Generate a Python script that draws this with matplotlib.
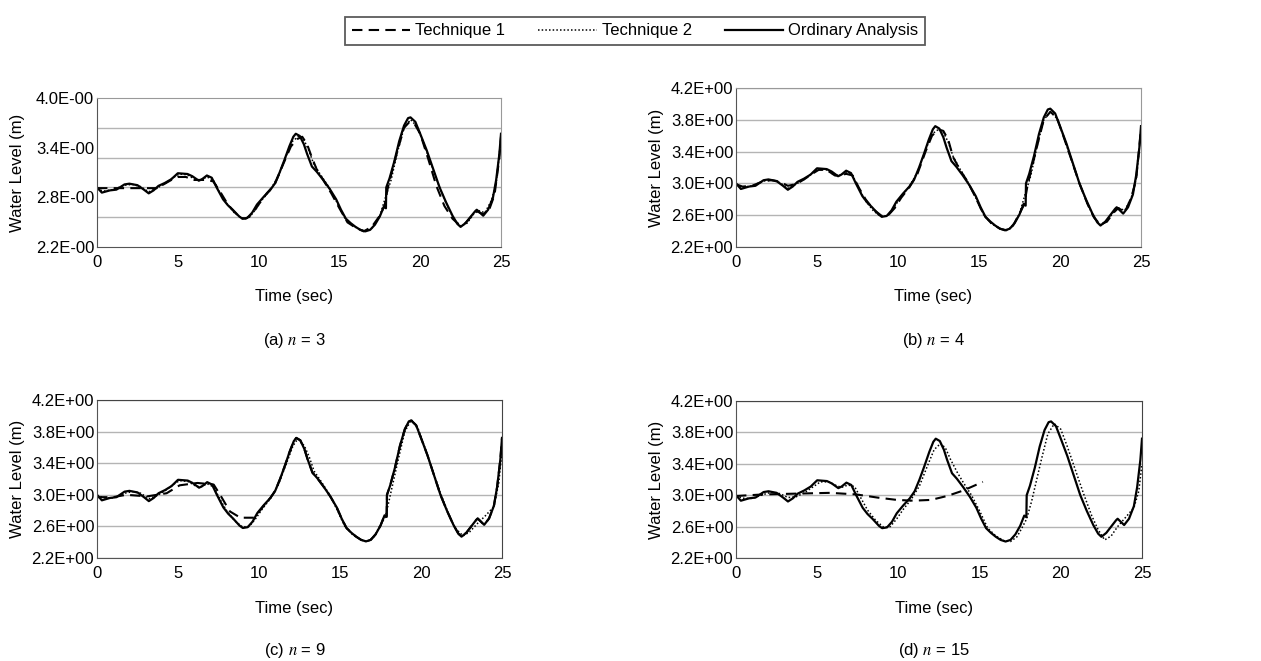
import matplotlib
matplotlib.use("AGG")

import matplotlib.pyplot as plt

plt.rcParams["font.family"] = ["Liberation Sans", "DejaVu Sans"]
plt.rcParams["mathtext.fontset"] = "stix"

# ── Data ────────────────────────────────────────────────────────────────────
# Ordinary analysis (solid) – same series in every panel
oa_time = [0, 0.3, 0.8, 1.2, 1.7, 2.0, 2.5, 2.9, 3.2, 3.5, 3.8, 4.2, 4.6, 5.0, 5.6, 5.9,
           6.3, 6.5, 6.8, 7.1, 7.4, 7.8, 8.1, 8.4, 8.8, 9.0, 9.3, 9.6, 9.9, 10.3, 10.7,
           11.0, 11.3, 11.6, 11.9, 12.15, 12.3, 12.55, 12.8, 13.0, 13.3, 13.6, 14.0, 14.4,
           14.8, 15.1, 15.4, 15.7, 16.0, 16.3, 16.6, 16.9, 17.2, 17.5, 17.75, 17.88, 17.9,
           18.1, 18.4, 18.7, 19.0, 19.25, 19.4, 19.7, 20.0, 20.4, 20.8, 21.2, 21.6, 22.0,
           22.3, 22.5, 22.8, 23.1, 23.4, 23.5, 23.8, 23.9, 24.2, 24.5, 24.7, 24.9, 25.0]
oa_level = [3.00, 2.93, 2.96, 2.97, 3.04, 3.05, 3.03, 2.97, 2.92, 2.96, 3.02, 3.06, 3.11, 3.19,
            3.18, 3.15, 3.09, 3.11, 3.16, 3.13, 3.00, 2.84, 2.76, 2.70, 2.61, 2.58, 2.59, 2.66,
            2.77, 2.87, 2.96, 3.05, 3.20, 3.37, 3.55, 3.68, 3.72, 3.69, 3.58, 3.45, 3.28, 3.21,
            3.10, 2.98, 2.84, 2.70, 2.58, 2.52, 2.47, 2.43, 2.41, 2.43, 2.50, 2.61, 2.74, 2.72,
            3.00, 3.12, 3.35, 3.62, 3.83, 3.93, 3.94, 3.88, 3.72, 3.50, 3.25, 3.00, 2.80, 2.62,
            2.51, 2.47, 2.52, 2.60, 2.68, 2.70, 2.64, 2.62, 2.70, 2.86, 3.10, 3.45, 3.72]

# (a) n = 3
t1_n3_time = [0, 3.7, 4.2, 4.6, 5.0, 5.5, 6.0, 6.8, 7.2, 7.6, 8.1, 8.5, 8.9, 9.2, 9.6, 10.0,
              10.5, 11.0, 11.5, 12.0, 12.4, 12.7, 13.0, 13.3, 13.6, 14.0, 14.5, 15.0, 15.5,
              16.0, 16.5, 17.0, 17.5, 17.8, 18.0, 18.5, 19.0, 19.3, 19.6, 20.0, 20.5, 21.0,
              21.5, 22.0, 22.4, 22.8, 23.2, 23.5, 23.9, 24.3, 24.6, 24.9, 25.0]
t1_n3_level = [2.99, 2.99, 3.05, 3.10, 3.14, 3.14, 3.10, 3.10, 3.08, 2.95, 2.77, 2.67, 2.59,
               2.58, 2.64, 2.77, 2.92, 3.04, 3.30, 3.55, 3.65, 3.68, 3.58, 3.40, 3.24, 3.10,
               2.92, 2.72, 2.53, 2.46, 2.41, 2.47, 2.62, 2.76, 3.00, 3.42, 3.80, 3.87, 3.87,
               3.72, 3.38, 3.02, 2.75, 2.58, 2.50, 2.52, 2.62, 2.68, 2.64, 2.72, 2.90, 3.40, 3.68]
t2_n3_time = [0, 0.4, 1.0, 1.7, 2.2, 2.7, 3.2, 3.7, 4.2, 4.7, 5.1, 5.6, 6.1, 6.4, 6.8, 7.2,
              7.6, 8.0, 8.5, 9.0, 9.4, 9.8, 10.2, 10.7, 11.2, 11.7, 12.1, 12.5, 12.8, 13.1,
              13.4, 13.8, 14.3, 14.8, 15.3, 15.8, 16.3, 16.7, 17.1, 17.5, 17.9, 18.2, 18.6,
              19.0, 19.4, 19.8, 20.2, 20.7, 21.2, 21.7, 22.1, 22.5, 22.9, 23.3, 23.6, 24.0,
              24.4, 24.7, 25.0]
t2_n3_level = [2.98, 2.95, 2.97, 3.03, 3.04, 3.01, 2.94, 2.99, 3.05, 3.13, 3.18, 3.17, 3.10,
               3.10, 3.14, 3.10, 2.93, 2.79, 2.66, 2.58, 2.59, 2.70, 2.83, 2.96, 3.14, 3.42,
               3.62, 3.69, 3.64, 3.50, 3.32, 3.18, 3.02, 2.82, 2.60, 2.49, 2.43, 2.41, 2.47,
               2.62, 2.90, 3.10, 3.48, 3.80, 3.91, 3.82, 3.60, 3.30, 3.00, 2.74, 2.57, 2.48,
               2.52, 2.64, 2.69, 2.66, 2.82, 3.05, 3.65]

# (b) n = 4
t1_n4_time = [0, 0.4, 1.0, 1.7, 2.2, 2.7, 3.2, 3.7, 4.2, 4.7, 5.1, 5.6, 6.1, 6.4, 6.8, 7.2,
              7.6, 8.0, 8.5, 9.0, 9.4, 9.8, 10.2, 10.7, 11.2, 11.7, 12.1, 12.5, 12.8, 13.1,
              13.4, 13.8, 14.3, 14.8, 15.3, 15.8, 16.3, 16.7, 17.1, 17.5, 17.8, 18.0, 18.6,
              19.0, 19.4, 19.8, 20.2, 20.7, 21.2, 21.7, 22.1, 22.5, 22.9, 23.3, 23.6, 24.0,
              24.4, 24.7, 25.0]
t1_n4_level = [2.99, 2.96, 2.97, 3.03, 3.04, 3.02, 2.97, 2.99, 3.05, 3.12, 3.17, 3.17, 3.10,
               3.10, 3.12, 3.10, 2.94, 2.80, 2.67, 2.59, 2.60, 2.69, 2.82, 2.95, 3.12, 3.40,
               3.60, 3.68, 3.66, 3.55, 3.33, 3.18, 3.02, 2.82, 2.60, 2.49, 2.43, 2.41, 2.47,
               2.62, 2.74, 2.98, 3.48, 3.80, 3.90, 3.83, 3.60, 3.30, 3.00, 2.74, 2.57, 2.48,
               2.52, 2.63, 2.69, 2.64, 2.82, 3.05, 3.68]
t2_n4_time = [0, 0.4, 1.0, 1.7, 2.2, 2.7, 3.2, 3.7, 4.2, 4.7, 5.1, 5.6, 6.1, 6.4, 6.8, 7.2,
              7.6, 8.0, 8.5, 9.0, 9.4, 9.8, 10.2, 10.7, 11.2, 11.7, 12.1, 12.5, 12.8, 13.1,
              13.4, 13.8, 14.3, 14.8, 15.3, 15.8, 16.3, 16.7, 17.1, 17.5, 17.9, 18.2, 18.6,
              19.0, 19.4, 19.8, 20.2, 20.7, 21.2, 21.7, 22.1, 22.5, 22.9, 23.3, 23.6, 24.0,
              24.4, 24.7, 25.0]
t2_n4_level = [2.98, 2.95, 2.97, 3.03, 3.04, 3.01, 2.94, 2.99, 3.05, 3.13, 3.18, 3.17, 3.10,
               3.10, 3.14, 3.10, 2.93, 2.78, 2.65, 2.58, 2.60, 2.71, 2.84, 2.96, 3.14, 3.42,
               3.62, 3.68, 3.64, 3.52, 3.34, 3.19, 3.02, 2.82, 2.60, 2.49, 2.43, 2.41, 2.47,
               2.62, 2.90, 3.10, 3.48, 3.80, 3.90, 3.82, 3.60, 3.30, 3.00, 2.74, 2.57, 2.48,
               2.52, 2.64, 2.69, 2.66, 2.82, 3.05, 3.65]

# (c) n = 9
t1_n9_time = [0, 1.0, 1.8, 3.1, 4.3, 5.1, 6.2, 7.2, 7.6, 8.2, 8.85, 9.7, 10.1, 10.4, 10.7,
              11.0, 11.3, 11.6, 11.9, 12.15, 12.3, 12.55, 12.8, 13.0, 13.3, 13.6, 14.0, 14.4,
              14.8, 15.1, 15.4, 15.7, 16.0, 16.3, 16.6, 16.9, 17.2, 17.5, 17.75, 17.88, 17.9,
              18.1, 18.4, 18.7, 19.0, 19.25, 19.4, 19.7, 20.0, 20.4, 20.8, 21.2, 21.6, 22.0,
              22.3, 22.5, 22.8, 23.1, 23.4, 23.5, 23.8, 23.9, 24.2, 24.5, 24.7, 24.9, 25.0]
t1_n9_level = [2.97, 2.97, 3.00, 2.98, 3.02, 3.12, 3.15, 3.13, 3.00, 2.79, 2.71, 2.71, 2.81,
               2.89, 2.96, 3.05, 3.20, 3.37, 3.55, 3.68, 3.72, 3.69, 3.58, 3.45, 3.28, 3.21,
               3.10, 2.98, 2.84, 2.70, 2.58, 2.52, 2.47, 2.43, 2.41, 2.43, 2.50, 2.61, 2.74,
               2.72, 3.00, 3.12, 3.35, 3.62, 3.83, 3.93, 3.94, 3.88, 3.72, 3.50, 3.25, 3.00,
               2.80, 2.62, 2.51, 2.47, 2.52, 2.60, 2.68, 2.70, 2.64, 2.62, 2.70, 2.86, 3.10,
               3.45, 3.72]
t2_n9_time = [0, 0.5, 1.0, 1.7, 2.2, 2.7, 3.2, 3.7, 4.2, 4.7, 5.1, 5.6, 6.1, 6.4, 6.8, 7.2,
              7.6, 8.0, 8.5, 9.0, 9.4, 9.8, 10.2, 10.7, 11.2, 11.7, 12.1, 12.4, 12.8, 13.1,
              13.4, 13.8, 14.3, 14.8, 15.3, 15.8, 16.3, 16.7, 17.1, 17.5, 17.8, 18.0, 18.6,
              19.0, 19.4, 19.8, 20.2, 20.7, 21.2, 21.7, 22.1, 22.6, 23.0, 23.5, 24.0, 24.5,
              24.8, 25.0]
t2_n9_level = [2.99, 2.96, 2.96, 3.02, 3.04, 3.02, 2.95, 2.99, 3.05, 3.13, 3.18, 3.17, 3.11,
               3.10, 3.14, 3.10, 2.94, 2.80, 2.67, 2.59, 2.60, 2.70, 2.82, 2.95, 3.13, 3.40,
               3.62, 3.71, 3.62, 3.48, 3.30, 3.18, 3.02, 2.82, 2.60, 2.49, 2.43, 2.41, 2.47,
               2.62, 2.72, 2.90, 3.45, 3.80, 3.95, 3.85, 3.62, 3.32, 3.02, 2.76, 2.58, 2.48,
               2.53, 2.64, 2.74, 2.85, 3.15, 3.55]

# (d) n = 15
t1_n15_time = [0, 1.7, 3.7, 5.8, 7.4, 8.7, 9.9, 10.9, 12.0, 13.0, 14.0, 15.2]
t1_n15_level = [2.99, 3.01, 3.02, 3.03, 3.01, 2.97, 2.94, 2.93, 2.94, 2.99, 3.06, 3.17]
t2_n15_time = [0, 0.5, 1.0, 1.7, 2.2, 2.7, 3.2, 3.7, 4.2, 4.7, 5.2, 5.7, 6.2, 6.5, 6.9, 7.3,
               7.7, 8.1, 8.6, 9.1, 9.5, 9.9, 10.3, 10.8, 11.3, 11.8, 12.2, 12.6, 12.9, 13.2,
               13.6, 14.0, 14.5, 15.0, 15.5, 16.0, 16.5, 16.9, 17.3, 17.6, 17.9, 18.2, 18.8,
               19.2, 19.6, 20.0, 20.4, 20.9, 21.4, 21.9, 22.3, 22.7, 23.1, 23.5, 24.0, 24.5,
               24.8, 25.0]
t2_n15_level = [2.99, 2.96, 2.96, 3.01, 3.04, 3.02, 2.97, 2.98, 3.03, 3.10, 3.17, 3.17, 3.12,
                3.10, 3.13, 3.11, 2.96, 2.81, 2.68, 2.59, 2.60, 2.70, 2.82, 2.95, 3.12, 3.38,
                3.58, 3.66, 3.60, 3.46, 3.30, 3.16, 3.00, 2.80, 2.58, 2.48, 2.42, 2.41, 2.47,
                2.58, 2.70, 2.92, 3.45, 3.78, 3.91, 3.84, 3.62, 3.32, 3.02, 2.74, 2.56, 2.43,
                2.48, 2.60, 2.72, 2.84, 3.05, 3.40]

captions = ["(a) $n$ = 3", "(b) $n$ = 4", "(c) $n$ = 9", "(d) $n$ = 15"]
x_ticks = [0, 5, 10, 15, 20, 25]
y_ticks = [2.2, 2.6, 3.0, 3.4, 3.8, 4.2]
y_tick_labels = ["2.2E+00", "2.6E+00", "3.0E+00", "3.4E+00", "3.8E+00", "4.2E+00"]
# panel (a) was labelled with its own (odd) set of ticks
y_ticks_a = [2.2, 2.2 + 2 / 3, 2.2 + 4 / 3, 4.2]
y_tick_labels_a = ["2.2E-00", "2.8E-00", "3.4E-00", "4.0E-00"]

series = [
    (t1_n3_time, t1_n3_level, t2_n3_time, t2_n3_level),
    (t1_n4_time, t1_n4_level, t2_n4_time, t2_n4_level),
    (t1_n9_time, t1_n9_level, t2_n9_time, t2_n9_level),
    (t1_n15_time, t1_n15_level, t2_n15_time, t2_n15_level),
]

# ── Layout (pixel boxes: left, top, right, bottom) ──────────────────────────
W, H = 1261, 661
BOXES = [(97, 98, 501, 247), (736, 88, 1141, 247), (97, 400, 502, 558), (736, 401, 1142, 558)]
FS = 12
GRID = "#b4b4b4"

fig = plt.figure(figsize=(W / 100, H / 100), dpi=100)

handles = None
for i, (box, caption, (t1x, t1y, t2x, t2y)) in enumerate(zip(BOXES, captions, series)):
    l, t, r, b = box
    ax = fig.add_axes([l / W, 1 - b / H, (r - l) / W, (b - t) / H])

    h1, = ax.plot(t1x, t1y, color="black", lw=1.5, linestyle=(0, (5, 3)), label="Technique 1")
    h2, = ax.plot(t2x, t2y, color="black", lw=1.1, linestyle=(0, (1, 1.4)), label="Technique 2")
    h3, = ax.plot(oa_time, oa_level, color="black", lw=1.6, label="Ordinary Analysis")
    handles = [h1, h2, h3]

    ax.set_xlim(0, 25)
    ax.set_ylim(2.2, 4.2)
    ax.set_xticks(x_ticks)
    ax.set_xticklabels([str(v) for v in x_ticks], fontsize=FS)
    if i == 0:
        ax.set_yticks(y_ticks_a)
        ax.set_yticklabels(y_tick_labels_a, fontsize=FS)
        ax.set_yticks(y_ticks, minor=True)
        ax.grid(axis="y", which="minor", color=GRID, lw=1)
    else:
        ax.set_yticks(y_ticks)
        ax.set_yticklabels(y_tick_labels, fontsize=FS)
        ax.grid(axis="y", which="major", color=GRID, lw=1)
    ax.tick_params(which="both", length=0)
    ax.tick_params(axis="x", pad=6)
    ax.tick_params(axis="y", pad=2)
    ax.set_axisbelow(True)

    edge = "#999999" if i < 2 else "#444444"
    for side in ("top", "right"):
        ax.spines[side].set_color(edge)
    for side in ("left", "bottom"):
        ax.spines[side].set_color("#555555")

    ax.set_ylabel("Water Level (m)", fontsize=FS)
    ax.yaxis.set_label_coords(-72 / (r - l), 0.5)

    cx = (l + r) / 2 - 5
    row_time, row_cap = (297, 340) if i < 2 else (608, 651)
    fig.text(cx / W, 1 - row_time / H, "Time (sec)", ha="center", va="center", fontsize=FS)
    fig.text(cx / W, 1 - row_cap / H, caption, ha="center", va="center", fontsize=FS)

leg = fig.legend(handles=handles, loc="center", bbox_to_anchor=(635 / W, 1 - 31 / H),
                 ncol=3, fontsize=FS, frameon=True, fancybox=False, handlelength=3.5,
                 handletextpad=0.3, columnspacing=2.0, borderpad=0.4)
leg.get_frame().set_edgecolor("#333333")
leg.get_frame().set_linewidth(1.3)

fig.savefig("out.png", dpi=100)
